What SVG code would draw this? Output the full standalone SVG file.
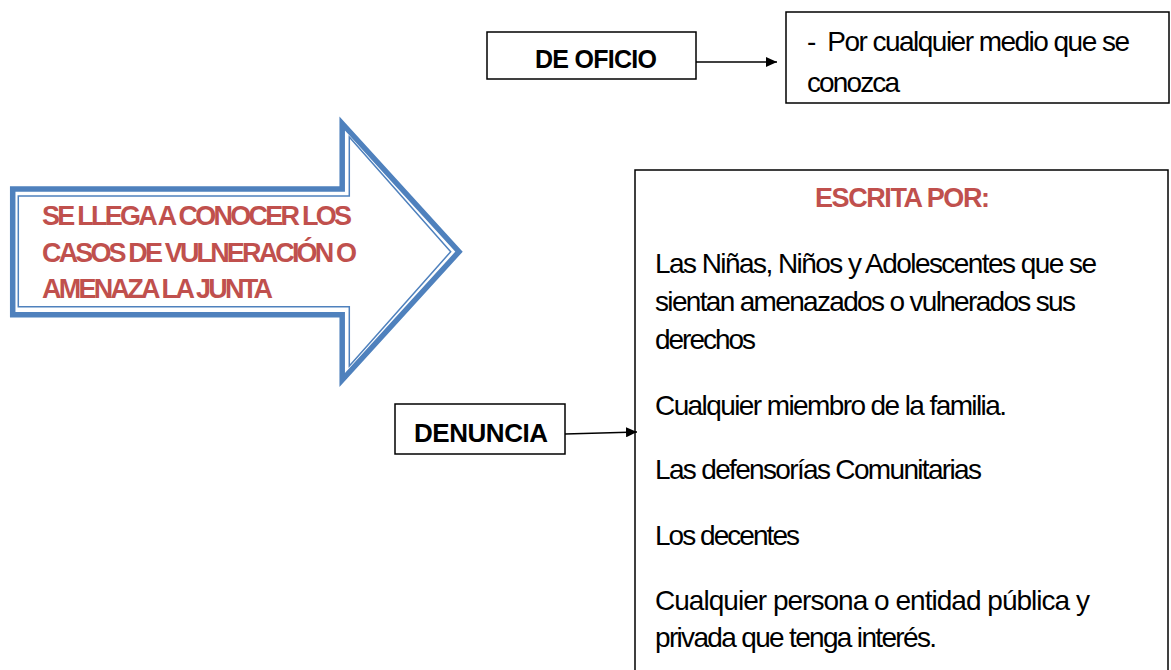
<svg xmlns="http://www.w3.org/2000/svg" width="1171" height="670" viewBox="0 0 1171 670">
<defs>
<marker id="ah" markerWidth="12" markerHeight="10" refX="11" refY="5" orient="auto" markerUnits="userSpaceOnUse">
<path d="M0,0 L11,5 L0,10 Z" fill="#000"/>
</marker>
<style>
.box{fill:#fff;stroke:#000;stroke-width:1.5}
.t{font-family:"Liberation Sans",Arial,sans-serif;font-size:28px;fill:#000}
.b{font-family:"Liberation Sans",Arial,sans-serif;font-weight:bold;fill:#000}
.red{font-family:"Liberation Sans",Arial,sans-serif;font-weight:bold;font-size:27px;fill:#C0504D}
.conn{stroke:#000;stroke-width:1.5;fill:none}
</style>
</defs>
<rect width="1171" height="670" fill="#fff"/>

<g id="arrow-node">
<polygon points="12.7,189 342.2,189 342.2,123.5 459,251.7 342.2,380 342.2,314.8 12.7,314.8" fill="#fff" stroke="#4F81BD" stroke-width="5.5"/>
<polygon points="18.3,196 349.3,196 349.3,137 450.7,251.7 349.3,366 349.3,306.7 18.3,306.7" fill="none" stroke="#4F81BD" stroke-width="1.5"/>
<text class="red" x="42" y="225" textLength="310" lengthAdjust="spacing">SE LLEGA A CONOCER LOS</text>
<text class="red" x="42" y="261.5" textLength="315" lengthAdjust="spacing">CASOS DE VULNERACIÓN O</text>
<text class="red" x="42" y="297.5" textLength="231" lengthAdjust="spacing">AMENAZA LA JUNTA</text>
</g>

<g id="de-oficio">
<rect class="box" x="487" y="32" width="209" height="47"/>
<text class="b" x="535" y="68.3" font-size="25" textLength="122" lengthAdjust="spacing">DE OFICIO</text>
</g>

<g id="medio">
<rect class="box" x="786" y="12" width="383" height="91"/>
<text class="t" x="807" y="51" textLength="323" lengthAdjust="spacing" xml:space="preserve">-  Por cualquier medio que se</text>
<text class="t" x="807" y="92" textLength="93" lengthAdjust="spacing">conozca</text>
</g>

<g id="denuncia">
<rect class="box" x="395" y="404" width="170" height="50"/>
<text class="b" x="414" y="442" font-size="26" textLength="134" lengthAdjust="spacing">DENUNCIA</text>
</g>

<g id="escrita">
<rect class="box" x="635" y="170" width="533" height="520"/>
<text class="red" x="815" y="207.4" textLength="175" lengthAdjust="spacing">ESCRITA POR:</text>
<text class="t" x="655" y="272.7" textLength="442" lengthAdjust="spacing">Las Niñas, Niños y Adolescentes que se</text>
<text class="t" x="655" y="310.5" textLength="421" lengthAdjust="spacing">sientan amenazados o vulnerados sus</text>
<text class="t" x="655" y="348.5" textLength="101" lengthAdjust="spacing">derechos</text>
<text class="t" x="655" y="415" textLength="352" lengthAdjust="spacing">Cualquier miembro de la familia.</text>
<text class="t" x="655" y="478.5" textLength="327" lengthAdjust="spacing">Las defensorías Comunitarias</text>
<text class="t" x="655" y="545" textLength="145" lengthAdjust="spacing">Los decentes</text>
<text class="t" x="655" y="610" textLength="435" lengthAdjust="spacing">Cualquier persona o entidad pública y</text>
<text class="t" x="655" y="647" textLength="282" lengthAdjust="spacing">privada que tenga interés.</text>
</g>

<g id="connectors">
<line class="conn" x1="696" y1="62" x2="777" y2="62" marker-end="url(#ah)"/>
<line class="conn" x1="565" y1="434" x2="637" y2="432" marker-end="url(#ah)"/>
</g>
</svg>
